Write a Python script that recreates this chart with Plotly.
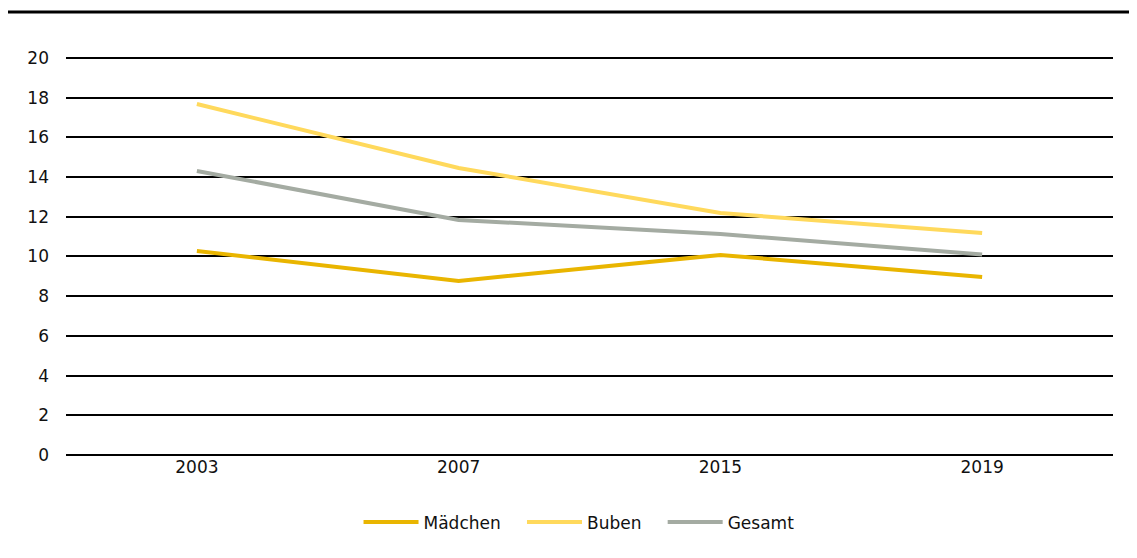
import plotly.graph_objects as go

years = ["2003", "2007", "2015", "2019"]
maedchen = [10.28, 8.77, 10.08, 8.97]
buben = [17.68, 14.46, 12.19, 11.18]
gesamt = [14.31, 11.84, 11.13, 10.10]
y_ticks = [0, 2, 4, 6, 8, 10, 12, 14, 16, 18, 20]

pad = "\u00a0\u00a0\u00a0"
fig = go.Figure()
fig.add_trace(go.Scatter(x=years, y=maedchen, name="Mädchen" + pad, mode="lines",
                         line=dict(color="#E9B500", width=4)))
fig.add_trace(go.Scatter(x=years, y=buben, name="Buben" + pad, mode="lines",
                         line=dict(color="#FFD95C", width=4)))
fig.add_trace(go.Scatter(x=years, y=gesamt, name="Gesamt", mode="lines",
                         line=dict(color="#A4ABA2", width=4)))

fig.update_layout(
    width=1129, height=550,
    margin=dict(l=58, r=24, t=44, b=103, autoexpand=False),
    paper_bgcolor="white", plot_bgcolor="white",
    font=dict(family="DejaVu Sans", size=18, color="#111111"),
    xaxis=dict(type="category", range=[-0.5, 3.5], showgrid=False, showline=False,
               zeroline=False, ticks="", tickfont=dict(size=17)),
    yaxis=dict(range=[0, 20.3], tickvals=y_ticks, showgrid=True, gridcolor="black",
               gridwidth=1.5, zeroline=True, zerolinecolor="black", zerolinewidth=1.5,
               ticks="", ticklabelstandoff=16, tickfont=dict(size=17)),
    legend=dict(orientation="h", x=0.49, xanchor="center", y=-0.123, yanchor="top",
                itemwidth=55, font=dict(size=17)),
    showlegend=True,
    shapes=[dict(type="line", xref="paper", yref="paper", x0=-0.058, x1=1.03,
                 y0=1.099, y1=1.099, line=dict(color="black", width=3))],
)

fig.write_html("out.html")
